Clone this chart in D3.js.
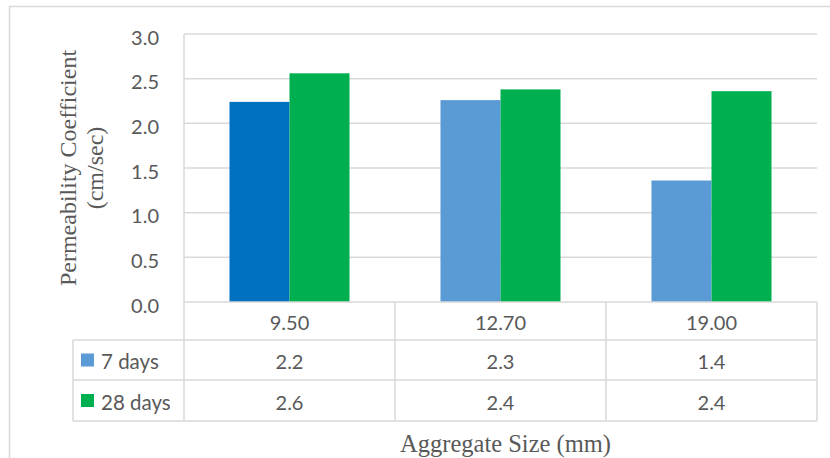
<!DOCTYPE html>
<html>
<head>
<meta charset="utf-8">
<script src="https://cdn.jsdelivr.net/npm/d3@7"></script>
<style>
  html, body { margin: 0; padding: 0; background: #fff; }
  svg { display: block; }
</style>
</head>
<body>
<svg id="chart" width="830" height="458"></svg>
<script>
// ---- data ----
const categories = ["9.50", "12.70", "19.00"];
const seriesNames = ["7 days", "28 days"];
const days7 = [2.24, 2.26, 1.36];
const days28 = [2.56, 2.38, 2.36];
const yTicks = [0, 0.5, 1.0, 1.5, 2.0, 2.5, 3.0];
const yTitle = ["Permeability Coefficient", "(cm/sec)"];
const xTitle = "Aggregate Size (mm)";

// ---- style ----
const seriesColors = ["#5B9BD5", "#00B050"];
const firstPointColor = "#0070C0"; // first 7-day bar has a darker fill
const grid = "#D9D9D9";
const textCol = "#595959";
const sansFont = "Lato, 'Open Sans', sans-serif";
const serifFont = "'Liberation Serif', 'Times New Roman', serif";

const svg = d3.select("#chart");
const plot = { left: 184, right: 817, top: 34, bottom: 302 };
const rowsY = [302, 340, 380, 421];
const tableLeft = 73;

const x = d3.scaleBand().domain(categories).range([plot.left, plot.right]).paddingInner(0).paddingOuter(0);
const xs = d3.scaleBand().domain(seriesNames).range([0, x.bandwidth()]).paddingInner(0).paddingOuter(0.758);
const y = d3.scaleLinear().domain([0, 3]).range([plot.bottom, plot.top]);

// outer frame (cropped on right/bottom)
svg.append("path")
  .attr("d", `M9.5,470 V6.5 H840`)
  .attr("fill", "none").attr("stroke", grid).attr("stroke-width", 1.5);

// gridlines
svg.append("g").selectAll("line").data(yTicks.filter(d => d > 0)).join("line")
  .attr("x1", plot.left).attr("x2", plot.right)
  .attr("y1", d => y(d)).attr("y2", d => y(d))
  .attr("stroke", grid).attr("stroke-width", 1.5);

// y tick labels via axis
const yAxis = d3.axisLeft(y).tickValues(yTicks).tickFormat(d3.format(".1f")).tickSize(0).tickPadding(0);
const yg = svg.append("g").attr("transform", `translate(159,0)`).call(yAxis);
yg.select(".domain").remove();
yg.selectAll("text")
  .attr("fill", textCol).attr("font-family", sansFont).attr("font-size", 20)
  .attr("dy", "0.35em").attr("y", 3);

// bars
const seriesData = [days7, days28];
const barData = [];
seriesData.forEach((vals, si) => {
  vals.forEach((v, ci) => barData.push({ s: seriesNames[si], si, c: categories[ci], ci, v }));
});
svg.append("g").selectAll("rect").data(barData).join("rect")
  .attr("x", d => x(d.c) + xs(d.s))
  .attr("width", xs.bandwidth())
  .attr("y", d => y(d.v))
  .attr("height", d => y(0) - y(d.v))
  .attr("fill", d => (d.si === 0 && d.ci === 0) ? firstPointColor : seriesColors[d.si]);

// table lines
const tl = svg.append("g").attr("stroke", grid).attr("stroke-width", 1.5).attr("fill", "none");
tl.append("line").attr("x1", plot.left).attr("x2", plot.right).attr("y1", rowsY[0]).attr("y2", rowsY[0]);
rowsY.slice(1).forEach(ry => {
  tl.append("line").attr("x1", tableLeft).attr("x2", plot.right).attr("y1", ry).attr("y2", ry);
});
tl.append("line").attr("x1", tableLeft).attr("x2", tableLeft).attr("y1", rowsY[1]).attr("y2", rowsY[3]);
tl.append("line").attr("x1", plot.left).attr("x2", plot.left).attr("y1", plot.top).attr("y2", rowsY[3]);
categories.forEach(c => {
  const xr = x(c) + x.bandwidth();
  tl.append("line").attr("x1", xr).attr("x2", xr).attr("y1", rowsY[0]).attr("y2", rowsY[3]);
});

// category labels
const fmt = d3.format(".1f");
svg.append("g").selectAll("text").data(categories).join("text")
  .attr("x", d => x(d) + x.bandwidth() / 2)
  .attr("y", (rowsY[0] + rowsY[1]) / 2 + 2)
  .attr("dy", "0.35em").attr("text-anchor", "middle")
  .attr("fill", textCol).attr("font-family", sansFont).attr("font-size", 20)
  .text(d => d);

// value rows
seriesData.forEach((vals, si) => {
  const cy = (rowsY[si + 1] + rowsY[si + 2]) / 2 + 2;
  const g = svg.append("g");
  g.selectAll("text").data(vals).join("text")
    .attr("x", (d, i) => x(categories[i]) + x.bandwidth() / 2)
    .attr("y", cy).attr("dy", "0.35em").attr("text-anchor", "middle")
    .attr("fill", textCol).attr("font-family", sansFont).attr("font-size", 20)
    .text(d => fmt(d));
  g.append("rect").attr("x", 81).attr("y", cy - 2 - 6.5).attr("width", 13).attr("height", 13)
    .attr("fill", seriesColors[si]);
  g.append("text").attr("x", 101).attr("y", cy).attr("dy", "0.35em")
    .attr("fill", textCol).attr("font-family", sansFont).attr("font-size", 20.5)
    .text(seriesNames[si]);
});

// axis titles
const yt = svg.append("text")
  .attr("transform", `translate(0,${(plot.top + plot.bottom) / 2}) rotate(-90)`)
  .attr("text-anchor", "middle").attr("fill", textCol)
  .attr("font-family", serifFont).attr("font-size", 24);
yt.append("tspan").attr("x", 0).attr("y", 76).text(yTitle[0]);
yt.append("tspan").attr("x", 0).attr("y", 103).text(yTitle[1]);

svg.append("text")
  .attr("x", (plot.left + plot.right) / 2 + 5).attr("y", 452)
  .attr("text-anchor", "middle").attr("fill", textCol)
  .attr("font-family", serifFont).attr("font-size", 24.5)
  .text(xTitle);
</script>
</body>
</html>
